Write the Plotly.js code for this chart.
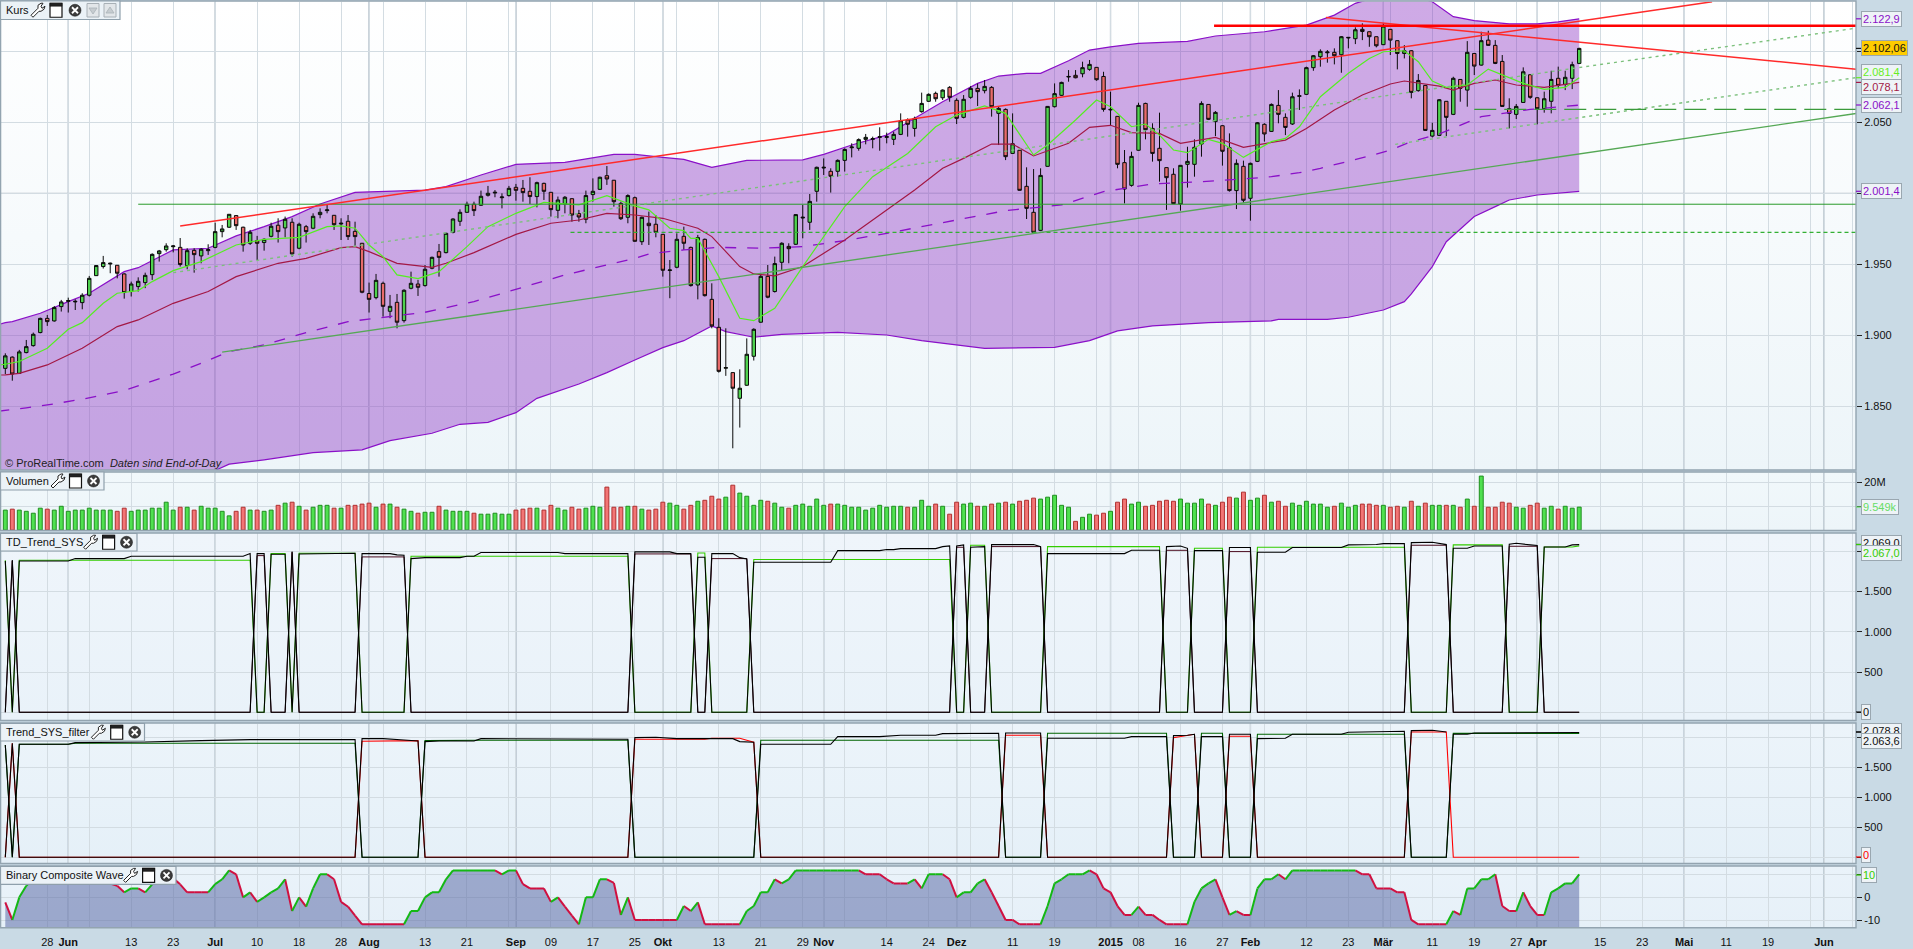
<!DOCTYPE html>
<html><head><meta charset="utf-8">
<script src="https://cdn.plot.ly/plotly-3.0.1.min.js"></script>
<style>
html,body{margin:0;padding:0;background:#c9dae5;overflow:hidden}
#chart{width:1913px;height:949px;background-color:#c9dae5;background-repeat:no-repeat;
background-image:linear-gradient(#ffffff,#edf5f9),linear-gradient(#f1f8fb,#edf5f9),linear-gradient(#eff5fb,#e9f2f9),linear-gradient(#ecf4fa,#e5f0f8),linear-gradient(#eaf3fa,#e6f0f8);
background-size:1856px 469px,1856px 58px,1856px 187px,1856px 140px,1856px 61px;
background-position:0 1px,0 472px,0 533px,0 723px,0 866px}
</style></head><body><div id="chart"></div>
<script>
const W=1913,H=949,PR=1856;
// --- Kurs: daily candles
const opens=[1876.7,1884.6,1873.2,1887.8,1892.7,1901.9,1911.9,1910.1,1920.2,1923.9,
1923.5,1923.0,1928.2,1942.0,1948.4,1950.2,1949.3,1943.2,1930.8,1934.3,
1937.1,1942.7,1957.5,1960.3,1962.4,1961.9,1949.1,1959.8,1955.9,1959.6,
1961.9,1973.0,1976.1,1984.3,1976.1,1964.8,1966.7,1965.3,1969.7,1977.5,
1975.6,1979.6,1961.3,1976.5,1975.4,1985.0,1987.8,1984.5,1978.4,1980.3,
1973.2,1964.8,1929.4,1926.5,1936.6,1916.9,1923.2,1910.3,1933.1,1936.1,
1935.0,1947.2,1958.9,1958.2,1972.5,1980.3,1986.6,1992.3,1991.6,1998.6,
2000.2,1996.9,1998.4,2004.2,2003.5,2001.4,1997.7,2007.0,2000.7,1988.0,
1992.5,1996.2,1985.7,1981.7,1999.1,2002.8,2012.4,2009.2,1992.9,1983.1,
1996.9,1965.9,1978.9,1978.2,1971.1,1945.6,1947.9,1969.7,1961.9,1935.4,
1967.6,1925.3,1905.6,1876.8,1873.7,1855.6,1864.8,1885.2,1909.2,1941.5,
1930.8,1951.4,1962.6,1964.1,1982.6,1979.6,2001.4,2017.8,2015.5,2015.5,
2023.2,2032.1,2031.7,2038.0,2038.0,2039.4,2039.4,2038.0,2041.5,2051.6,
2045.7,2057.5,2064.8,2070.4,2067.3,2074.6,2065.5,2053.5,2067.6,2073.9,
2072.3,2074.6,2056.3,2059.1,2028.1,2030.3,2004.9,1986.6,1973.9,2019.0,
2061.0,2069.0,2081.9,2083.1,2084.2,2087.3,2088.7,2082.3,2058.7,2054.2,
2021.6,2005.6,2030.3,2063.3,2045.7,2031.7,2018.1,2013.4,1992.5,2020.4,
2020.4,2034.7,2062.6,2050.5,2047.6,2032.1,2001.9,2019.0,1996.5,2022.5,
2048.6,2043.6,2061.9,2053.5,2048.8,2068.3,2069.7,2088.5,2096.2,2099.0,
2099.3,2097.6,2109.4,2108.9,2115.5,2113.8,2110.3,2104.7,2115.5,2107.5,
2098.5,2100.4,2072.3,2076.0,2040.3,2040.8,2064.8,2055.6,2080.2,2072.7,
2098.5,2090.3,2107.9,2104.2,2092.9,2059.6,2055.6,2064.0,2083.5,2067.3,
2059.6,2064.8,2081.0,2076.7,2081.0,2091.5];
const highs=[1887.3,1885.1,1889.7,1896.7,1901.9,1912.4,1914.3,1920.6,1924.9,1926.5,
1925.3,1929.6,1941.8,1949.5,1955.9,1951.2,1949.5,1943.7,1937.8,1940.8,
1944.1,1957.7,1960.1,1964.8,1963.6,1968.5,1961.3,1961.3,1961.3,1964.1,
1979.3,1977.7,1985.4,1984.7,1976.5,1974.2,1970.0,1968.3,1979.3,1982.4,
1983.6,1982.4,1979.3,1977.7,1985.9,1989.4,1991.8,1984.7,1982.4,1984.7,
1980.0,1965.0,1937.1,1943.2,1937.8,1928.4,1929.1,1932.4,1944.8,1939.0,
1949.5,1955.4,1964.3,1972.3,1982.4,1988.7,1994.1,1994.1,2001.9,2005.2,
2002.3,2000.0,2005.2,2006.6,2009.4,2011.3,2008.2,2007.5,2000.9,1997.7,
1998.1,1996.5,1988.3,2001.9,2010.5,2011.7,2019.2,2009.4,1994.1,1999.3,
1997.7,1983.6,1987.1,1984.7,1971.3,1953.0,1971.8,1976.5,1962.4,1970.7,
1968.1,1936.6,1912.0,1904.9,1873.9,1876.0,1897.8,1904.9,1942.5,1949.5,
1955.4,1965.5,1964.8,1985.4,1991.8,1999.5,2018.8,2024.6,2017.6,2023.9,
2031.7,2035.2,2038.7,2041.8,2039.9,2046.5,2042.7,2043.4,2056.3,2052.8,
2054.0,2070.9,2070.4,2071.6,2073.2,2075.5,2066.9,2069.2,2075.5,2077.4,
2079.8,2075.5,2061.0,2059.8,2056.3,2030.5,2018.3,2017.1,2017.6,2061.5,
2077.4,2078.6,2086.8,2086.8,2092.7,2093.9,2088.9,2085.6,2071.6,2054.4,
2030.5,2029.3,2063.8,2063.8,2049.3,2056.8,2018.3,2017.6,2019.9,2032.8,
2038.0,2064.8,2062.9,2057.9,2047.9,2042.2,2023.9,2023.0,2021.6,2050.2,
2049.3,2063.3,2072.7,2056.3,2070.9,2073.2,2089.2,2097.4,2101.4,2100.9,
2102.1,2110.8,2109.8,2116.9,2119.7,2114.0,2110.5,2119.7,2115.7,2107.7,
2104.4,2100.9,2084.0,2076.3,2049.7,2066.4,2065.0,2082.1,2080.5,2107.2,
2098.8,2113.8,2114.5,2107.9,2097.4,2066.9,2062.9,2088.7,2084.0,2067.6,
2071.6,2086.3,2089.2,2086.3,2092.7,2102.5];
const lows=[1872.7,1868.0,1872.7,1887.3,1892.0,1901.4,1906.6,1909.6,1916.7,1916.0,
1917.8,1918.3,1927.3,1941.8,1947.0,1943.7,1940.1,1925.8,1927.3,1930.8,
1933.2,1939.0,1951.9,1958.9,1958.4,1948.4,1946.5,1944.1,1950.7,1956.6,
1961.3,1969.0,1975.6,1974.2,1958.9,1963.6,1953.0,1959.6,1969.0,1965.3,
1969.0,1955.4,1960.6,1965.3,1974.7,1982.4,1985.9,1974.2,1967.1,1967.1,
1962.9,1929.6,1916.0,1925.3,1913.1,1912.0,1904.9,1908.9,1932.4,1927.7,
1934.3,1946.5,1941.3,1957.7,1971.8,1977.0,1986.4,1984.0,1991.1,1997.7,
1997.2,1989.4,1997.7,1994.8,1994.1,1992.5,1990.1,1995.3,1983.6,1982.4,
1985.9,1980.0,1980.0,1978.9,1994.1,2002.3,2005.9,1990.6,1981.2,1978.9,
1965.9,1963.6,1963.6,1969.0,1941.3,1926.1,1947.2,1960.1,1934.3,1925.3,
1927.3,1904.9,1873.7,1871.4,1820.4,1835.0,1864.3,1882.2,1908.9,1926.1,
1930.1,1946.0,1950.7,1963.6,1968.3,1974.2,1994.1,2012.9,2000.5,2011.7,
2015.3,2025.3,2030.0,2034.5,2031.7,2030.0,2035.2,2034.0,2041.0,2039.9,
2039.9,2056.8,2064.3,2064.5,2065.7,2064.5,2048.8,2052.8,2066.6,2061.5,
2070.4,2054.0,2034.0,2023.4,2027.7,2001.9,1981.9,1972.3,1973.4,2018.8,
2060.5,2068.5,2078.6,2081.0,2081.7,2086.3,2079.3,2057.5,2047.4,2017.6,
1992.9,2004.7,2030.0,2038.0,2022.3,2008.2,1988.3,1992.5,1987.8,2004.0,
2011.7,2025.8,2051.6,2040.3,2019.5,2001.2,1988.9,1993.4,1980.7,2022.0,
2036.4,2043.2,2049.3,2041.0,2048.1,2058.7,2069.2,2086.3,2089.2,2092.0,
2090.8,2084.9,2102.1,2105.1,2107.9,2103.2,2102.8,2104.4,2097.4,2087.3,
2095.0,2066.9,2071.6,2043.9,2039.4,2040.3,2040.3,2055.1,2064.5,2061.0,
2083.3,2089.9,2103.9,2091.0,2061.0,2045.7,2052.3,2063.8,2066.6,2048.6,
2056.8,2056.3,2073.9,2072.7,2073.4,2091.0];
const closes=[1885.5,1872.7,1888.3,1892.0,1900.7,1911.9,1909.6,1919.5,1923.5,1924.4,
1923.9,1928.2,1940.1,1949.1,1951.2,1950.7,1943.7,1930.1,1936.1,1938.0,
1942.2,1957.0,1959.4,1962.9,1962.9,1949.8,1959.6,1956.8,1960.6,1960.3,
1973.0,1974.9,1985.2,1977.2,1963.6,1972.5,1964.8,1967.6,1976.8,1973.0,
1981.7,1957.3,1978.2,1973.0,1983.8,1986.6,1988.3,1977.9,1978.9,1969.5,
1969.5,1930.3,1925.3,1938.7,1920.4,1920.4,1909.2,1931.7,1936.6,1933.8,
1946.5,1954.9,1954.9,1971.8,1981.9,1986.6,1992.3,1987.8,1997.9,2000.0,
2000.7,1997.4,2003.5,2002.1,2000.5,1997.7,2007.5,2001.4,1988.5,1995.3,
1997.2,1984.7,1983.3,1998.4,2001.4,2011.3,2010.1,1994.1,1982.1,1998.4,
1966.2,1983.1,1977.2,1972.5,1945.8,1946.0,1967.6,1964.8,1935.0,1968.8,
1927.9,1906.6,1874.6,1877.2,1862.7,1862.7,1886.6,1904.2,1941.5,1926.8,
1950.5,1964.8,1961.0,1985.0,1983.1,1994.3,2018.3,2018.3,2012.0,2023.2,
2030.9,2032.6,2037.8,2039.4,2038.5,2039.9,2039.9,2041.5,2051.1,2048.6,
2052.8,2063.3,2069.7,2066.6,2072.7,2067.6,2052.8,2066.2,2073.9,2071.6,
2075.3,2061.0,2059.8,2025.8,2034.9,2002.1,1989.4,1972.5,2012.6,2061.2,
2070.2,2078.1,2082.3,2081.4,2088.5,2090.8,2080.0,2059.1,2059.1,2020.4,
2003.0,2026.0,2061.9,2044.8,2028.1,2023.0,2011.0,1992.7,2019.7,2022.5,
2032.4,2063.3,2052.1,2057.0,2029.6,2001.9,2021.1,1995.1,2021.1,2049.7,
2041.8,2062.6,2055.6,2046.4,2068.0,2068.7,2088.5,2096.9,2100.0,2099.5,
2096.9,2110.3,2109.8,2115.2,2114.0,2110.3,2103.9,2117.8,2107.9,2098.5,
2100.4,2071.1,2079.5,2044.3,2044.3,2065.9,2053.5,2081.0,2073.9,2099.3,
2089.6,2107.5,2104.2,2091.5,2061.2,2056.3,2061.2,2085.6,2067.6,2059.6,
2066.6,2080.2,2076.0,2081.7,2090.6,2102.06];
// Bollinger bands and averages: [candle, value]
const bandUpper=[[-1,1907.5],[0,1908.9],[1,1909.6],[5,1915.5],[9,1923.7],[12,1929.6],[17,1944.8],[19,1947.6],[24,1960.1],[29,1961.3],[33,1970.0],[37,1976.5],[41,1983.6],[45,1992.5],[50,2000.7],[60,2002.3],[63,2004.7],[68,2012.9],[73,2020.4],[80,2021.8],[87,2027.4],[90,2027.4],[94,2025.3],[97,2023.9],[101,2018.3],[106,2023.2],[114,2023.5],[117,2027.4],[121,2034.0],[126,2041.0],[130,2052.8],[134,2064.5],[139,2077.4],[142,2082.6],[146,2084.5],[148,2084.5],[152,2093.4],[155,2100.9],[158,2103.2],[162,2105.6],[169,2107.0],[173,2110.8],[180,2113.8],[186,2118.5],[190,2125.5],[193,2133.8],[199,2142.7],[204,2134.9],[207,2124.4],[210,2121.6],[215,2119.4],[219,2119.4],[222,2120.8],[225,2122.9]];
const bandLower=[[-1,1768],[0,1770],[15,1788.7],[30,1804.8],[32,1809.2],[37,1812.3],[44,1817.4],[51,1819.3],[55,1825.8],[61,1831.0],[65,1837.3],[69,1838.7],[73,1845.5],[76,1855.6],[82,1865.7],[86,1873.7],[90,1882.6],[94,1891.3],[97,1896.2],[101,1906.6],[103,1902.6],[107,1898.6],[111,1900.7],[119,1902.1],[126,1900.2],[131,1896.2],[140,1890.8],[150,1891.5],[155,1896.2],[159,1903.1],[164,1906.6],[172,1908.9],[181,1910.1],[182,1911.2],[189,1911.2],[192,1912.7],[197,1917.8],[200,1923.7],[201,1929.1],[204,1948.4],[206,1965.9],[210,1983.6],[213,1990.6],[215,1995.3],[219,1998.8],[225,2001.4]];
const bandMiddle=[[-1,1846.5],[0,1847.0],[3,1848.9],[7,1851.7],[11,1855.0],[17,1861.0],[20,1866.2],[24,1872.7],[28,1880.3],[32,1888.5],[37,1893.2],[43,1901.9],[49,1909.6],[53,1912.0],[60,1916.2],[67,1923.7],[73,1932.4],[80,1942.5],[87,1950.7],[90,1954.2],[92,1957.3],[97,1960.1],[102,1961.9],[108,1961.3],[114,1962.4],[120,1966.7],[126,1971.8],[131,1976.5],[137,1982.4],[143,1987.8],[151,1991.8],[157,2001.2],[164,2006.6],[171,2008.2],[178,2010.5],[181,2011.7],[185,2014.5],[188,2017.6],[195,2026.3],[198,2030.5],[201,2036.4],[205,2041.8],[211,2054.0],[214,2056.3],[218,2059.1],[225,2062.1]];
const maFast=[[-1,1879],[0,1879.6],[2,1881.5],[6,1890.9],[9,1904.2],[11,1908.9],[14,1922.5],[16,1929.6],[19,1931.5],[21,1937.8],[24,1945.5],[28,1951.9],[33,1963.6],[37,1967.6],[42,1969.0],[46,1976.5],[48,1977.0],[50,1975.4],[52,1963.6],[54,1955.4],[56,1942.5],[59,1939.9],[62,1944.8],[66,1962.4],[69,1976.5],[73,1985.9],[77,1993.6],[82,1991.8],[86,1998.4],[90,1991.1],[92,1988.3],[95,1975.4],[97,1973.7],[98,1968.3],[99,1968.3],[102,1941.3],[105,1912.0],[107,1910.3],[110,1919.0],[114,1948.4],[120,1990.6],[124,2011.7],[129,2028.1],[133,2046.9],[136,2055.1],[140,2061.5],[143,2056.3],[147,2027.0],[149,2034.0],[153,2051.6],[156,2065.7],[158,2061.0],[161,2046.9],[163,2048.8],[165,2041.0],[167,2030.5],[169,2028.6],[172,2038.0],[174,2035.2],[177,2025.3],[181,2036.4],[183,2038.7],[185,2046.9],[188,2068.0],[192,2084.5],[195,2095.0],[197,2099.7],[200,2100.4],[202,2092.7],[204,2079.1],[206,2074.6],[209,2076.3],[212,2087.5],[214,2083.3],[217,2077.4],[220,2073.2],[223,2074.6],[225,2081.4]];
const maSlow=[[-1,1872],[0,1872.1],[2,1873.2],[6,1879.1],[11,1890.9],[16,1906.1],[19,1910.8],[24,1922.5],[29,1930.8],[33,1941.3],[39,1950.7],[43,1954.2],[48,1961.7],[50,1962.4],[52,1958.9],[56,1950.7],[61,1947.9],[63,1950.7],[67,1958.2],[73,1971.1],[78,1978.9],[82,1981.2],[86,1985.9],[90,1984.7],[94,1982.4],[99,1975.4],[101,1969.5],[105,1948.4],[107,1943.2],[110,1941.8],[114,1948.4],[120,1967.1],[126,1988.3],[130,2002.3],[134,2017.6],[137,2024.6],[141,2034.7],[144,2034.7],[147,2026.3],[152,2035.2],[155,2046.5],[158,2047.9],[161,2042.7],[165,2042.2],[168,2035.2],[173,2039.4],[177,2032.4],[181,2035.9],[183,2037.5],[186,2045.7],[190,2058.7],[194,2069.2],[198,2077.0],[200,2079.1],[205,2075.5],[207,2072.7],[210,2077.4],[213,2079.8],[216,2076.3],[220,2074.6],[225,2078.1]];
// drawn trend lines: [candle, value]
const resistanceLong=[[25,1976.9],[244,2134.9]];
const resistanceFalling=[[188.8,2123.9],[265,2087.2]];
const resistanceFlat=[[172.8,2118.0],[265,2118.0]];
const supportFlat=[[19,1992.3],[265,1992.3]];
const supportDashed=[[80.8,1972.5],[265,1972.5]];
const supportLong=[[31,1888.2],[265,2056.5]];
const channelDottedA=[[24,1944.1],[225,2088.6],[265,2116.6]];
const channelDottedB=[[198.7,2034.5],[265,2081.8]];
const supportLongDash=[[210,2059.1],[265,2059.1]];
// Volumen, millions
const volumes=[8.3,8.7,8.3,7.8,7.0,9.1,8.7,8.3,9.9,7.8,8.3,8.3,9.1,8.3,8.3,8.3,7.8,9.1,7.8,8.3,8.3,9.1,9.1,11.6,8.3,9.5,9.5,8.3,9.9,9.1,9.1,7.8,5.9,7.8,9.5,8.3,8.3,7.8,8.3,10.3,11.2,11.6,9.9,8.3,9.5,10.3,10.3,9.1,9.1,10.3,10.3,10.8,11.2,9.5,10.8,10.8,9.5,8.7,7.8,7.0,7.4,7.4,9.9,8.3,7.8,7.8,7.8,7.0,6.6,6.6,7.0,6.6,6.6,8.3,8.7,9.1,9.1,8.3,10.3,9.1,8.3,9.5,8.7,9.1,9.9,9.5,17.9,9.5,9.5,9.9,9.9,
8.7,8.3,8.7,11.6,11.2,10.3,8.7,10.3,12.0,12.4,14.1,12.9,13.7,18.7,15.4,14.1,10.3,12.4,12.0,11.2,9.5,9.1,10.3,10.8,9.9,12.9,10.3,10.8,10.8,10.3,9.5,9.5,8.3,9.1,10.3,9.5,9.9,9.9,9.5,9.5,12.4,9.9,10.8,9.9,6.6,11.6,10.8,11.2,9.9,9.9,10.8,11.2,11.6,10.8,12.0,12.4,13.3,12.9,13.7,14.5,10.3,9.5,3.6,5.3,6.6,6.2,7.0,7.8,11.6,12.9,10.8,11.6,9.9,10.3,12.0,12.4,12.0,12.9,11.2,11.2,12.9,10.8,10.3,11.6,13.7,13.3,15.8,12.4,13.3,14.5,11.6,
12.0,9.9,11.2,10.3,12.0,10.8,10.8,9.5,9.9,11.2,9.5,10.3,10.8,10.8,10.3,10.3,9.5,9.9,9.5,12.0,9.9,11.2,10.3,10.3,10.3,10.3,9.5,12.9,9.9,22.5,9.5,9.5,11.6,11.2,9.5,9.1,10.3,11.2,9.1,9.9,8.7,9.9,9.1,9.549];
// TD_Trend_SYS: [candle, value]
const tdGreen=[[0,1888],[1,0],[2,1888],[35,1888],[36,0],[37,0],[38,1971],[40,1971],[41,0],[42,1975],[50,1975],[51,0],[57,0],[58,1938],[89,1938],[90,0],[98,0],[99,1979],[100,1979],[101,0],[106,0],[107,1897],[135,1897],[136,0],[137,0],[138,2075],[140,2075],[141,0],[148,0],[149,2058],[165,2058],[166,0],[169,0],[170,2037],[174,2037],[175,0],[178,0],[179,2050],[200,2050],[201,0],[206,0],[207,2079],[214,2079],[215,0],[219,0],[220,2054],[224,2054],[225,2067]];
const tdRed=[[0,0],[1,1880],[2,0],[35,0],[36,1946],[37,1946],[38,0],[40,0],[41,1988],[42,0],[50,0],[51,1930],[57,1930],[58,0],[89,0],[90,1967],[98,1967],[99,0],[100,0],[101,1909],[106,1909],[107,0],[135,0],[136,2050],[137,2050],[138,0],[140,0],[141,2058],[148,2058],[149,0],[165,0],[166,2012],[169,2012],[170,0],[174,0],[175,1996],[178,1996],[179,0],[200,0],[201,2075],[206,2075],[207,0],[214,0],[215,2062],[219,2062],[220,0],[225,0]];
const tdBlackA=[[0,1880],[1,0],[2,1880],[9,1880],[10,1909],[17,1909],[18,1938],[34,1938],[35,1971],[36,0],[37,0],[38,1963],[40,1963],[41,0],[42,1967],[49,1971],[50,1975],[51,0],[57,0],[58,1909],[60,1921],[65,1921],[66,1938],[67,1938],[68,1984],[79,1984],[80,1971],[89,1971],[90,0],[98,0],[99,1926],[100,1926],[101,0],[106,0],[107,1863],[118,1863],[119,2008],[125,2008],[126,2021],[127,2021],[128,2033],[133,2033],[134,2058],[135,2066],[136,0],[137,0],[138,2050],[140,2058],[141,0],[148,0],[149,1971],[160,1971],[161,2012],[165,2012],[166,0],[169,0],[170,2008],[174,2008],[175,0],[178,0],[179,1988],[183,1988],[184,2046],[191,2046],[192,2079],[196,2085],[197,2095],[200,2095],[201,0],[206,0],[207,2037],[209,2037],[210,2066],[214,2066],[215,0],[219,0],[220,2054],[223,2054],[224,2079],[225,2083]];
const tdBlackB=[[0,0],[1,1892],[2,0],[35,0],[36,1971],[37,1971],[38,0],[40,0],[41,1996],[42,0],[50,0],[51,1971],[55,1971],[56,1955],[57,1950],[58,0],[89,0],[90,1992],[95,1992],[96,1971],[98,1971],[99,0],[100,0],[101,1971],[104,1971],[105,1921],[106,1905],[107,0],[135,0],[136,2066],[137,2079],[138,0],[140,0],[141,2083],[147,2083],[148,2058],[149,0],[165,0],[166,2058],[167,2066],[168,2066],[169,2037],[170,0],[174,0],[175,2046],[178,2046],[179,0],[200,0],[201,2108],[204,2112],[205,2095],[206,2083],[207,0],[214,0],[215,2087],[216,2099],[218,2079],[219,2071],[220,0],[225,0]];
// Trend_SYS_filter: [candle, value]
const fiGreen=[[0,1872],[1,0],[2,1883],[9,1883],[10,1900],[50,1900],[51,0],[59,0],[60,1944],[68,1950],[89,1950],[90,0],[107,0],[108,1950],[142,1950],[143,0],[148,0],[149,2067],[166,2067],[167,0],[170,0],[171,2067],[174,2067],[175,0],[178,0],[179,2050],[200,2050],[201,0],[206,0],[207,2067],[225,2063.6]];
const fiRed=[[0,0],[1,1900],[2,0],[50,0],[51,1933],[55,1933],[56,1944],[59,1944],[60,0],[89,0],[90,1967],[100,1967],[101,1983],[105,1983],[106,1950],[107,1917],[108,0],[142,0],[143,2033],[148,2033],[149,0],[166,0],[167,1994],[168,2011],[170,2050],[171,0],[174,0],[175,2017],[178,2017],[179,0],[200,0],[201,2089],[206,2089],[207,0],[225,0]];
const fiBlackA=[[0,1872],[1,0],[2,1883],[9,1883],[10,1911],[20,1922],[28,1945],[35,1961],[50,1961],[51,0],[59,0],[60,1928],[62,1939],[67,1939],[68,1978],[80,1978],[81,1967],[89,1967],[90,0],[107,0],[108,1883],[118,1883],[119,2011],[125,2011],[128,2033],[133,2033],[134,2061],[142,2067],[143,0],[148,0],[149,1983],[160,1983],[161,2011],[166,2011],[167,0],[170,0],[171,2011],[174,2011],[175,0],[178,0],[179,1978],[182,1983],[183,1983],[184,2050],[191,2050],[192,2083],[196,2089],[197,2100],[200,2100],[201,0],[206,0],[207,2050],[209,2050],[210,2072],[225,2078.8]];
const fiBlackB=[[0,0],[1,1900],[2,0],[50,0],[51,1978],[54,1978],[57,1955],[58,1944],[59,1939],[60,0],[89,0],[90,1994],[93,2000],[96,1978],[104,1978],[105,1928],[106,1922],[107,1917],[108,0],[142,0],[143,2072],[148,2072],[149,0],[166,0],[167,2028],[169,2033],[170,2050],[171,0],[174,0],[175,2050],[178,2050],[179,0],[200,0],[201,2111],[204,2117],[205,2106],[206,2089]];
// Binary Composite Wave, one value per candle
const waveValues=[-2.2,-9.9,0,5.1,8,10,11.8,9,10,11.8,10,8,8,10,8,6,5.1,2.2,3.9,3.9,2.2,5.7,8,10,8.3,5.7,2.2,2.2,2.2,2.2,5.8,7.9,11.8,10.1,0,2.2,-2,0,2.2,3.9,7.9,-6,0,-4.1,3.9,10.1,10.1,7.9,-2,-4.1,-8,-11.8,-11.8,-11.8,-11.8,-11.8,-11.8,-11.8,-6,-6,0,2.2,2.2,7.9,11.8,11.8,11.8,11.8,11.8,11.8,11.8,10.1,11.8,11.8,5.8,3.9,3.9,3.9,-2,0,-4.1,-8,-11.8,0,0,7.9,7.9,6.3,-7.7,0,-9.9,
-9.9,-9.9,-9.9,-9.9,-9.9,-9.9,-3.8,-6,-2.2,-11.8,-11.8,-11.8,-11.8,-11.8,-11.8,-6,-3.8,2.2,2.2,7.9,6.1,7.9,11.8,11.8,11.8,11.8,11.8,11.8,11.8,11.8,11.8,11.8,10.1,10.1,10.1,7.9,6.1,6.1,6.1,7.9,3.9,10.1,10.1,10.1,7.9,0,2.2,2.2,6.1,7.9,2.2,-3.8,-9.9,-9.9,-11.8,-11.8,-11.8,-11.8,-3.8,6.1,7.9,10.1,10.1,10.1,11.8,10.1,3.9,2.2,-3.8,-7.7,-7.7,-4.1,-7.7,-7.7,-9.9,-11.8,-11.8,-11.8,-11.8,-2,3.9,6.1,7.9,0,-7.7,-6,-7.7,-7.7,3.9,7.9,7.9,
10.1,7.9,11.8,11.8,11.8,11.8,11.8,11.8,11.8,11.8,11.8,11.8,10.1,10.1,3.9,3.9,3.9,2.2,2.2,-9.9,-11.8,-11.8,-11.8,-11.8,-11.8,-6,-7.7,3.9,3.9,7.9,7.9,10.1,-3.8,-6,-6,2.2,-3.8,-7.7,-7.7,2.2,3.9,6.1,6.1,10.1];
// time axis
const tickCandles=[6,9,12,18,24,30,36,42,48,52,54,60,66,72,73,78,84,90,94,96,102,108,114,117,120,126,132,136,138,144,150,156,158,162,168,174,178,180,186,192,197,198,204,210,216,219,222,228,234,240,246,252,258,260,264];
const tickLabels=['28','<b>Jun</b>','','13','23','<b>Jul</b>','10','18','28','<b>Aug</b>','','13','21','','<b>Sep</b>','09','17','25','<b>Okt</b>','','13','21','29','<b>Nov</b>','','14','24','<b>Dez</b>','','11','19','','<b>2015</b>','08','16','27','<b>Feb</b>','','12','23','<b>Mär</b>','','11','19','27','<b>Apr</b>','','15','23','<b>Mai</b>','11','19','','<b>Jun</b>',''];
const monthCandles=[9,30,52,73,94,117,136,158,178,197,219,240,260];

const xs=a=>a.map(p=>p[0]), ys=a=>a.map(p=>p[1]);
const idx=opens.map((_,i)=>i);
const up=opens.map((o,i)=>closes[i]>=o);
const L=(a,color,width,yaxis,extra)=>Object.assign({type:'scatter',mode:'lines',x:xs(a),y:ys(a),yaxis,line:{color,width},hoverinfo:'skip'},extra||{});
const dl=(a,color,width,dash,yaxis)=>{const t=L(a,color,width,yaxis);t.line.dash=dash;return t;};

// wave split in rising and falling runs
const wGreenX=[],wGreenY=[],wRedX=[],wRedY=[];
let rising=true;
for(let i=0;i<waveValues.length-1;i++){
  const d=waveValues[i+1]-waveValues[i];
  if(d>0)rising=true; else if(d<0)rising=false;
  const X=rising?wGreenX:wRedX,Y=rising?wGreenY:wRedY;
  X.push(i,i+1,null);Y.push(waveValues[i],waveValues[i+1],null);
}

const traces=[
 L(bandLower,'#8a10c8',1.2,'y'),
 L(bandUpper,'#8a10c8',1.2,'y',{fill:'tonexty',fillcolor:'rgba(135,42,192,0.4)'}),
 {type:'candlestick',x:idx,open:opens,high:highs,low:lows,close:closes,xaxis:'x',yaxis:'y6',whiskerwidth:0,hoverinfo:'skip',
  increasing:{fillcolor:'#4fd24f',line:{color:'#0a0a0a',width:1}},decreasing:{fillcolor:'#e86b6b',line:{color:'#0a0a0a',width:1}}},
 dl(bandMiddle,'#8a10c8',1.3,'11px,11px','y6'),
 L(maSlow,'#a31845',1.2,'y6'),
 L(maFast,'#55ee22',1.2,'y6'),
 L(supportFlat,'#2a9a2a',1,'y6'),
 dl(supportDashed,'#33b033',1.1,'4px,3px','y6'),
 L(supportLong,'#55a855',1.3,'y6'),
 dl(channelDottedA,'#7cc07c',1.4,'3px,4px','y6'),
 dl(channelDottedB,'#7cc07c',1.4,'3px,4px','y6'),
 dl(supportLongDash,'#3a9a3a',1.2,'22px,8px','y6'),
 L(resistanceLong,'#ff2a2a',1.5,'y6'),
 L(resistanceFalling,'#ff2a2a',1.5,'y6'),
 L(resistanceFlat,'#ff0000',2.6,'y6'),
 {type:'bar',x:idx,y:volumes,yaxis:'y2',width:0.56,hoverinfo:'skip',
  marker:{color:up.map(u=>u?'#4fe04f':'#f27575'),line:{color:up.map(u=>u?'#1f8f1f':'#b03030'),width:1}}},
 L(tdRed,'#4a0a1e',1,'y3'),L(tdGreen,'#33cc00',1.1,'y3'),L(tdBlackA,'#000',1.1,'y3'),L(tdBlackB,'#000',1.1,'y3'),
 L(fiGreen,'#006400',1.1,'y4'),L(fiRed,'#ff0000',1.1,'y4'),L(fiBlackA,'#000',1.1,'y4'),L(fiBlackB,'#000',1.1,'y4'),
 {type:'scatter',mode:'lines',x:[0,waveValues.length-1],y:[-14,-14],yaxis:'y5',line:{width:0},hoverinfo:'skip'},
 {type:'scatter',mode:'lines',x:idx,y:waveValues,yaxis:'y5',line:{width:0},fill:'tonexty',fillcolor:'rgba(80,95,160,0.5)',hoverinfo:'skip'},
 {type:'scatter',mode:'lines',x:wRedX,y:wRedY,yaxis:'y5',line:{color:'#d01040',width:2},connectgaps:false,hoverinfo:'skip'},
 {type:'scatter',mode:'lines',x:wGreenX,y:wGreenY,yaxis:'y5',line:{color:'#14b814',width:2},connectgaps:false,hoverinfo:'skip'}
];

const dom=(t,b)=>[1-b/H,1-t/H];
const GRID='#d3dce2',FONT='Liberation Sans, Arial, sans-serif',FS=11;
const yax=(t,b,range,vals,text)=>({domain:dom(t,b),range,anchor:'x',side:'right',tickmode:'array',tickvals:vals,ticktext:text,
  showgrid:true,gridcolor:GRID,gridwidth:1,zeroline:false,showline:false,ticks:'outside',ticklen:5,tickcolor:'#222',
  tickfont:{family:FONT,size:FS,color:'#111'},fixedrange:true});
const mainRange=[1805.1,2135.1];
const layout={width:W,height:H,margin:{l:0,r:0,t:0,b:0},paper_bgcolor:'rgba(0,0,0,0)',plot_bgcolor:'rgba(0,0,0,0)',showlegend:false,
 dragmode:false,
 xaxis:{domain:[0,PR/W],range:[-0.758,264.57],anchor:'y5',type:'linear',rangeslider:{visible:false},tickmode:'array',tickvals:tickCandles,ticktext:tickLabels,
  showgrid:true,gridcolor:GRID,gridwidth:1,zeroline:false,showline:false,ticks:'outside',ticklen:4,tickcolor:'rgba(0,0,0,0)',tickangle:0,
  tickfont:{family:FONT,size:FS,color:'#111'},fixedrange:true},
 yaxis:yax(1.5,470,mainRange,[1850,1900,1950,2000,2050,2100],['1.850','1.900','1.950','','2.050','']),
 yaxis2:yax(472.5,530,[0,24],[10,20],['','20M']),
 yaxis3:yax(533,720,[-96,2227],[0,500,1000,1500,2000],['','500','1.000','1.500','']),
 yaxis4:yax(723.5,863,[-95,2230],[0,500,1000,1500,2000],['','500','1.000','1.500','']),
 yaxis5:yax(866.5,927.5,[-13.2,13.5],[-10,0,10],['-10','0','']),
 yaxis6:{domain:dom(1.5,470),range:mainRange,overlaying:'y',side:'right',anchor:'x',visible:false,showgrid:false,zeroline:false,fixedrange:true},
 shapes:[],annotations:[]};

const PX=x=>x/W,PY=y=>1-y/H;
const axes=['y','y2','y3','y4','y5'];
// darker month lines in every panel
monthCandles.forEach(m=>axes.forEach(a=>layout.shapes.push({type:'line',layer:'below',xref:'x',yref:a+' domain',x0:m,x1:m,y0:0,y1:1,line:{color:'#a9b6c1',width:1.3}})));
layout.shapes.push({type:'line',layer:'below',xref:'x domain',yref:'y',x0:0,x1:1,y0:2000,y1:2000,line:{color:'#b6bfc8',width:1.3}});
// panel frames
[[1,470],[472,530.5],[533,720.5],[723,863.5],[866,927.8]].forEach(p=>layout.shapes.push({type:'rect',xref:'paper',yref:'paper',x0:0.0003,x1:PX(PR),y0:PY(p[1]),y1:PY(p[0]),line:{color:'#93a4b0',width:1.4}}));

function pathOf(points,close){return points.map((p,i)=>(i?'L':'M')+PX(p[0])+','+PY(p[1])).join(' ')+(close?' Z':'');}
function rectPx(x0,y0,x1,y1,fill,line,lw){layout.shapes.push({type:'rect',xref:'paper',yref:'paper',x0:PX(x0),x1:PX(x1),y0:PY(y1),y1:PY(y0),fillcolor:fill,line:{color:line,width:lw===undefined?1:lw}});}
function wrench(x,y){layout.shapes.push({type:'path',xref:'paper',yref:'paper',fillcolor:'#fff',line:{color:'#222',width:1},
  path:pathOf([[x-5,y+7],[x-7,y+5],[x,y-2],[x,y-5],[x+3,y-7],[x+5,y-7],[x+3,y-4],[x+4,y-2],[x+7,y-4],[x+6,y-1],[x+3,y+1],[x+1,y+1]],true)});}
function win(x,y){rectPx(x-6,y-7,x+6,y+7,'#fff','#111',1.2);rectPx(x-6,y-7,x+6,y-4,'#222','#111',0.5);}
function closeIcon(x,y){layout.shapes.push({type:'circle',xref:'paper',yref:'paper',x0:PX(x-6),x1:PX(x+6),y0:PY(y+6),y1:PY(y-6),fillcolor:'#3c3c3c',line:{color:'#111',width:0.5}});
  layout.shapes.push({type:'path',xref:'paper',yref:'paper',line:{color:'#fff',width:1.8},path:'M'+PX(x-3)+','+PY(y-3)+' L'+PX(x+3)+','+PY(y+3)+' M'+PX(x+3)+','+PY(y-3)+' L'+PX(x-3)+','+PY(y+3)});}
function titleBox(text,x1,y0,y1,ix){
  rectPx(0.5,y0,x1,y1,'#ebf2f7','#8fa0ac',1.2);
  wrench(ix[0],(y0+y1)/2);win(ix[1],(y0+y1)/2);closeIcon(ix[2],(y0+y1)/2);
  layout.annotations.push({xref:'paper',yref:'paper',x:PX(4),y:PY((y0+y1)/2),xanchor:'left',yanchor:'middle',text,showarrow:false,font:{family:FONT,size:FS,color:'#111'}});
}
titleBox('Kurs',120,1,19.5,[38,56,75]);
[93,110].forEach(x=>{rectPx(x-6,3.5,x+6,17,'#e2e6e9','#a8b0b6',1);layout.shapes.push({type:'path',xref:'paper',yref:'paper',fillcolor:'#c6ccd0',line:{color:'#aab2b8',width:0.8},path:pathOf(x===93?[[x-4,8],[x+4,8],[x,14]]:[[x-4,13],[x+4,13],[x,7]],true)});});
titleBox('Volumen',104,472,490,[58,75.5,93.5]);
titleBox('TD_Trend_SYS',137,533.5,551,[90.6,108.6,126.5]);
titleBox('Trend_SYS_filter',144.5,723.5,741,[98.4,116.7,134.7]);
titleBox('Binary Composite Wave',176,866.5,884.3,[130.6,148.6,166.5]);

layout.annotations.push({xref:'paper',yref:'paper',x:PX(3),y:PY(463),xanchor:'left',yanchor:'middle',showarrow:false,
  text:'© ProRealTime.com  <i>Daten sind End-of-Day</i>',font:{family:FONT,size:FS,color:'#222'}});

// current-value boxes on the right scale
const boxes=[
 ['2.122,9',19.3,18.8,'#8a10c8','#eef3f7'],
 ['2.102,06',48,48.4,'#111','#ffcc00'],
 ['2.081,4',72.3,77.7,'#66ee22','#eef3f7'],
 ['2.078,1',87,82.4,'#a31845','#eef3f7'],
 ['2.062,1',105.3,105,'#8a10c8','#eef3f7'],
 ['2.001,4',191,191.3,'#8a10c8','#eef3f7'],
 ['9.549k',507,507,'#66dd66','#eef3f7'],
 ['2.069,0',542.5,544.5,'#111','#eef3f7'],
 ['2.067,0',552.5,544.5,'#33cc00','#eef3f7'],
 ['0',712,712,'#111','#eef3f7'],
 ['2.078,8',731,732,'#111','#eef3f7'],
 ['2.063,6',740.5,732,'#111','#eef3f7'],
 ['0',855,857,'#ff0000','#eef3f7'],
 ['10',875,875,'#33cc00','#eef3f7']];
boxes.forEach(b=>{
 layout.shapes.push({type:'line',xref:'paper',yref:'paper',x0:PX(PR),x1:PX(1861),y0:PY(b[2]),y1:PY(b[2]),line:{color:b[3],width:1.2}});
 layout.annotations.push({xref:'paper',yref:'paper',x:PX(1861),y:PY(b[1]),xanchor:'left',yanchor:'middle',showarrow:false,text:b[0],
  font:{family:FONT,size:FS,color:b[3]},bgcolor:b[4],bordercolor:'#9aa7b0',borderwidth:1,borderpad:1});
});
Plotly.newPlot('chart',traces,layout,{staticPlot:true,displayModeBar:false});
</script></body></html>
